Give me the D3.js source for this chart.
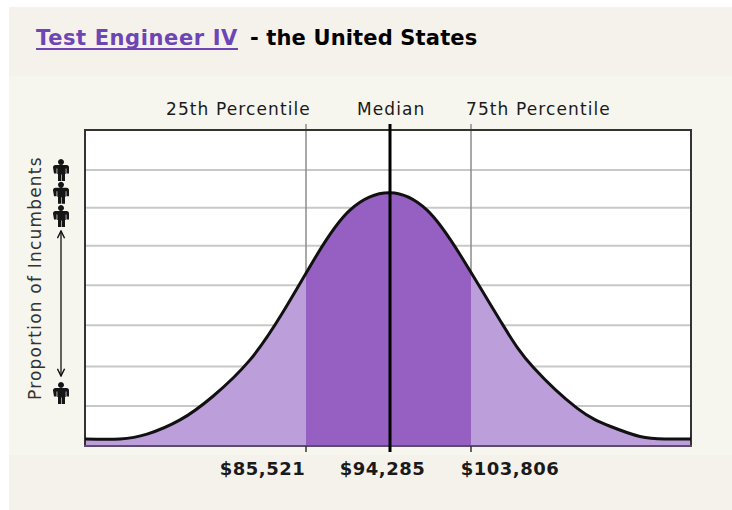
<!DOCTYPE html>
<html>
<head>
  <meta charset="utf-8">
  <script src="https://d3js.org/d3.v7.min.js"></script>
  <style>
    html, body { margin: 0; background: #fff; }
    svg { display: block; }
    text { font-family: "DejaVu Sans", Verdana, sans-serif; fill: #1a1a1a; }
    .title { font-size: 21px; font-weight: bold; fill: #000; letter-spacing: .15px; }
    .job { font-size: 21px; font-weight: bold; fill: #6d45b5; letter-spacing: .6px; }
    .pct { font-size: 17px; letter-spacing: 1.1px; }
    .salary { font-size: 18px; font-weight: bold; text-anchor: middle; letter-spacing: .5px; }
    .yname { font-size: 17px; letter-spacing: 1.2px; fill: #333; }
    .grid { stroke: #c8c8c8; stroke-width: 2; }
  </style>
</head>
<body>
  <script>
    var jobTitle = "Test Engineer IV";
    var regionTitle = "- the United States";
    var yName = "Proportion of Incumbents";

    var percentileNames = ["25th Percentile", "Median", "75th Percentile"];
    var percentileSalaries = [85521, 94285, 103806];

    // levels of the horizontal rules, in bands up from the bottom of the plot
    var gridLevels = [1.01, 2.01, 3.06, 4.07, 5.07, 6.03, 6.99];

    // bell curve
    var curveSalary = [66180, 68921, 71117, 73892, 76775, 80143, 83270, 86619, 89999, 94285,
      98529, 102475, 107835, 111755, 117762, 122479, 126931, 130764, 134871];
    var curveLevel = [0.18, 0.18, 0.30, 0.66, 1.26, 2.18, 3.39, 4.84, 5.97, 6.41,
      5.97, 4.84, 3.06, 2.00, 0.96, 0.50, 0.24, 0.18, 0.18];

    var personLevels = [6.99, 6.41, 5.82, 1.34];

    var margin = { left: 85, right: 691, top: 130, bottom: 446 };

    var x = d3.scaleLog()
      .domain([66180, 85521, 94285, 103806, 134871])
      .range([margin.left, 306, 390, 471, margin.right]);

    var y = d3.scaleLinear()
      .domain([0, 8])
      .range([margin.bottom, margin.top]);

    var svg = d3.select("body").append("svg")
      .attr("width", 732)
      .attr("height", 510);

    // panel behind everything
    svg.append("rect").attr("x", 9).attr("y", 7).attr("width", 723).attr("height", 503).attr("fill", "#f5f2eb");
    svg.append("rect").attr("x", 9).attr("y", 76).attr("width", 723).attr("height", 379).attr("fill", "#f6f5ee");

    // title
    svg.append("text").attr("class", "job").attr("x", 36).attr("y", 45).text(jobTitle);
    svg.append("text").attr("class", "title").attr("x", 250).attr("y", 45).text(regionTitle);
    svg.append("rect").attr("x", 36).attr("y", 48).attr("width", 202).attr("height", 2).attr("fill", "#6d45b5");

    // plot
    svg.append("rect")
      .attr("x", margin.left).attr("y", margin.top)
      .attr("width", margin.right - margin.left).attr("height", margin.bottom - margin.top)
      .attr("fill", "#fff");

    svg.selectAll(".grid")
      .data(gridLevels)
      .enter().append("line")
      .attr("class", "grid")
      .attr("x1", margin.left).attr("x2", margin.right)
      .attr("y1", d => y(d)).attr("y2", d => y(d));

    // percentile rules run from above the plot, the area covers their lower part
    svg.selectAll(".rule")
      .data([percentileSalaries[0], percentileSalaries[2]])
      .enter().append("line")
      .attr("class", "rule")
      .attr("x1", d => x(d)).attr("x2", d => x(d))
      .attr("y1", 124).attr("y2", margin.bottom)
      .attr("stroke", "#8c8c8c").attr("stroke-width", 1.5);

    var curvePoints = curveSalary.map((s, i) => [s, curveLevel[i]]);

    var area = d3.area()
      .x(d => x(d[0]))
      .y0(y(0))
      .y1(d => y(d[1]))
      .curve(d3.curveNatural);

    var line = d3.line()
      .x(d => x(d[0]))
      .y(d => y(d[1]))
      .curve(d3.curveNatural);

    svg.append("clipPath").attr("id", "middle")
      .append("rect")
      .attr("x", x(percentileSalaries[0])).attr("y", margin.top)
      .attr("width", x(percentileSalaries[2]) - x(percentileSalaries[0]))
      .attr("height", margin.bottom - margin.top);

    svg.append("path").attr("d", area(curvePoints)).attr("fill", "#bc9edb");
    svg.append("path").attr("d", area(curvePoints)).attr("fill", "#9560c2").attr("clip-path", "url(#middle)");

    // frame
    svg.append("path")
      .attr("d", d3.line()([[margin.left, margin.bottom], [margin.left, margin.top], [margin.right, margin.top], [margin.right, margin.bottom]]))
      .attr("fill", "none").attr("stroke", "#333").attr("stroke-width", 2);
    svg.append("line")
      .attr("x1", margin.left - 1).attr("x2", margin.right + 1)
      .attr("y1", margin.bottom).attr("y2", margin.bottom)
      .attr("stroke", "#5c4a70").attr("stroke-width", 2);

    svg.append("path")
      .attr("d", line(curvePoints))
      .attr("fill", "none").attr("stroke", "#111").attr("stroke-width", 3);

    // ticks under the axis
    svg.selectAll(".tick")
      .data(percentileSalaries)
      .enter().append("line")
      .attr("class", "tick")
      .attr("x1", d => x(d)).attr("x2", d => x(d))
      .attr("y1", margin.bottom).attr("y2", 452)
      .attr("stroke", "#333").attr("stroke-width", 1.5);

    // median
    svg.append("line")
      .attr("x1", x(percentileSalaries[1])).attr("x2", x(percentileSalaries[1]))
      .attr("y1", 124).attr("y2", 452)
      .attr("stroke", "#000").attr("stroke-width", 3);

    // labels above and below
    svg.selectAll(".pct")
      .data(percentileNames)
      .enter().append("text")
      .attr("class", "pct")
      .attr("x", (d, i) => [166, 357, 466][i])
      .attr("y", 115)
      .text(d => d);

    svg.selectAll(".salary")
      .data(percentileSalaries)
      .enter().append("text")
      .attr("class", "salary")
      .attr("x", (d, i) => [262.5, 382.5, 510][i])
      .attr("y", 475)
      .text(d => "$" + d3.format(",")(d));

    // y side
    svg.append("text")
      .attr("class", "yname")
      .attr("transform", "translate(41,400) rotate(-90)")
      .text(yName);

    var marker = svg.append("defs").append("marker")
      .attr("id", "head").attr("viewBox", "0 0 10 10").attr("refX", 9).attr("refY", 5)
      .attr("markerWidth", 9).attr("markerHeight", 9).attr("markerUnits", "userSpaceOnUse")
      .attr("orient", "auto-start-reverse");
    marker.append("path").attr("d", "M1,1L9,5L1,9").attr("fill", "none").attr("stroke", "#111").attr("stroke-width", 1.6);

    svg.append("line")
      .attr("x1", 61).attr("x2", 61).attr("y1", 231).attr("y2", 376)
      .attr("stroke", "#111").attr("stroke-width", 1.3)
      .attr("marker-start", "url(#head)").attr("marker-end", "url(#head)");

    // little person icon, centred on its own origin
    var personPath = "M0,-11a3,3 0 1,1 -0.01,0z" +
      "M-8,-2.5q0,-2.5 2.5,-2.5h11q2.5,0 2.5,2.5v6h-2.6v-5h-0.7v5.5h-0.7v7h-3.2v-6.5h-0.6v6.5h-3.2v-7h-0.7v-5.5h-0.7v5h-2.6z";

    svg.selectAll(".person")
      .data(personLevels)
      .enter().append("path")
      .attr("class", "person")
      .attr("d", personPath)
      .attr("transform", d => "translate(61," + y(d) + ")")
      .attr("fill", "#151515");
  </script>
</body>
</html>
